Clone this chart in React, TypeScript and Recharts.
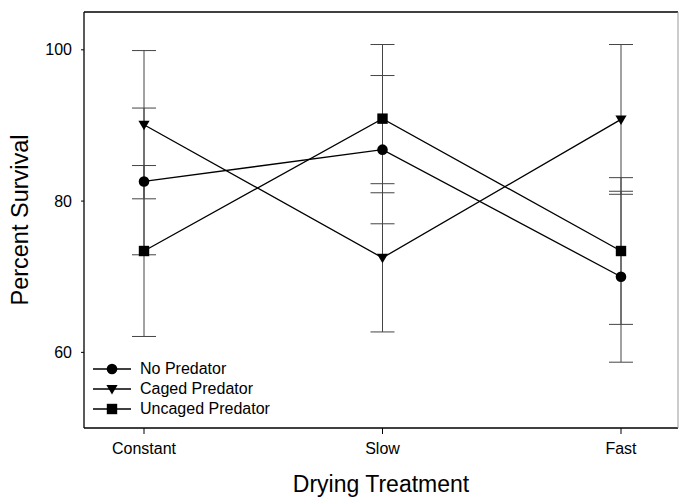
import React from "react";
import { LineChart, Line, XAxis, YAxis, ErrorBar, Legend } from "recharts";

const categories = ["Constant", "Slow", "Fast"];
const seriesNames = ["No Predator", "Caged Predator", "Uncaged Predator"];
const noPredator = [82.6, 86.8, 70.0];
const noPredatorErr = [9.7, 9.8, 11.3];
const cagedPredator = [90.1, 72.5, 90.8];
const cagedPredatorErr = [9.8, 9.8, 9.9];
const uncagedPredator = [73.4, 90.9, 73.4];
const uncagedPredatorErr = [11.3, 9.8, 9.7];
const yTicks = [60, 80, 100];

const data = categories.map((name, i) => ({
  name,
  np: noPredator[i],
  npErr: noPredatorErr[i],
  cp: cagedPredator[i],
  cpErr: cagedPredatorErr[i],
  up: uncagedPredator[i],
  upErr: uncagedPredatorErr[i],
}));

const FONT = "'Liberation Sans', Arial, sans-serif";

type Kind = "circle" | "triangle" | "square";

function Marker({ kind, cx, cy }: { kind: Kind; cx: number; cy: number }) {
  if (kind === "circle") return <circle cx={cx} cy={cy} r={5.3} fill="#000" />;
  if (kind === "square") return <rect x={cx - 5.2} y={cy - 5.2} width={10.4} height={10.4} fill="#000" />;
  return (
    <polygon
      points={`${cx - 5.6},${cy - 4} ${cx + 5.6},${cy - 4} ${cx},${cy + 5.5}`}
      fill="#000"
    />
  );
}

const dotFor = (kind: Kind) => (props: any) =>
  <Marker key={`${kind}-${props.index}`} kind={kind} cx={props.cx} cy={props.cy} />;

const legendKinds: Record<string, Kind> = {
  "No Predator": "circle",
  "Caged Predator": "triangle",
  "Uncaged Predator": "square",
};

function LegendBox(props: any) {
  const items = [...(props.payload || [])].sort(
    (a: any, b: any) => seriesNames.indexOf(a.value) - seriesNames.indexOf(b.value)
  );
  return (
    <div style={{ fontFamily: FONT, fontSize: 16, color: "#000" }}>
      {items.map((it: any) => (
        <div key={it.value} style={{ display: "flex", alignItems: "center", height: 20 }}>
          <svg width={50} height={20}>
            <line x1={5} x2={43} y1={10} y2={10} stroke="#000" strokeWidth={1.3} />
            <Marker kind={legendKinds[it.value]} cx={24} cy={10} />
          </svg>
          <span style={{ marginLeft: 2 }}>{it.value}</span>
        </div>
      ))}
    </div>
  );
}

export default function App() {
  return (
    <div style={{ position: "absolute", left: 0, top: 0, width: 680, height: 498, background: "#fff" }}>
      <LineChart
        width={680}
        height={498}
        data={data}
        margin={{ top: 11, right: 1, left: 0, bottom: 0 }}
        style={{ fontFamily: FONT }}
      >
        <XAxis
          dataKey="name"
          padding={{ left: 60, right: 57 }}
          height={70}
          tick={{ fill: "#000", fontSize: 16 }}
          tickSize={6}
          tickMargin={9}
          axisLine={{ stroke: "#000", strokeWidth: 1.3 }}
          tickLine={{ stroke: "#000" }}
          label={{ value: "Drying Treatment", position: "center", dy: 21, fontSize: 23, fill: "#000" }}
        />
        <XAxis
          xAxisId="top"
          dataKey="name"
          orientation="top"
          height={1}
          tick={false}
          tickLine={false}
          axisLine={{ stroke: "#000", strokeWidth: 1.3 }}
        />
        <YAxis
          domain={[50, 105]}
          ticks={yTicks}
          width={84}
          tick={{ fill: "#000", fontSize: 16 }}
          tickSize={3}
          tickMargin={9}
          axisLine={{ stroke: "#000", strokeWidth: 1.3 }}
          tickLine={{ stroke: "#000" }}
          label={{ value: "Percent Survival", angle: -90, position: "center", dx: -22, fontSize: 23.5, fill: "#000" }}
        />
        <YAxis
          yAxisId="right"
          orientation="right"
          domain={[50, 105]}
          width={1}
          tick={false}
          tickLine={false}
          axisLine={{ stroke: "#999", strokeWidth: 1 }}
        />
        <Legend
          layout="horizontal"
          verticalAlign="middle"
          align="center"
          content={<LegendBox />}
          wrapperStyle={{ left: 88, top: 359, width: 200, height: 62 }}
        />
        <Line
          name="No Predator"
          dataKey="np"
          stroke="#000"
          strokeWidth={1.3}
          dot={dotFor("circle")}
          isAnimationActive={false}
        >
          <ErrorBar dataKey="npErr" width={12} stroke="#444" strokeWidth={1} direction="y" />
        </Line>
        <Line
          name="Caged Predator"
          dataKey="cp"
          stroke="#000"
          strokeWidth={1.3}
          dot={dotFor("triangle")}
          isAnimationActive={false}
        >
          <ErrorBar dataKey="cpErr" width={12} stroke="#444" strokeWidth={1} direction="y" />
        </Line>
        <Line
          name="Uncaged Predator"
          dataKey="up"
          stroke="#000"
          strokeWidth={1.3}
          dot={dotFor("square")}
          isAnimationActive={false}
        >
          <ErrorBar dataKey="upErr" width={12} stroke="#444" strokeWidth={1} direction="y" />
        </Line>
      </LineChart>
    </div>
  );
}
